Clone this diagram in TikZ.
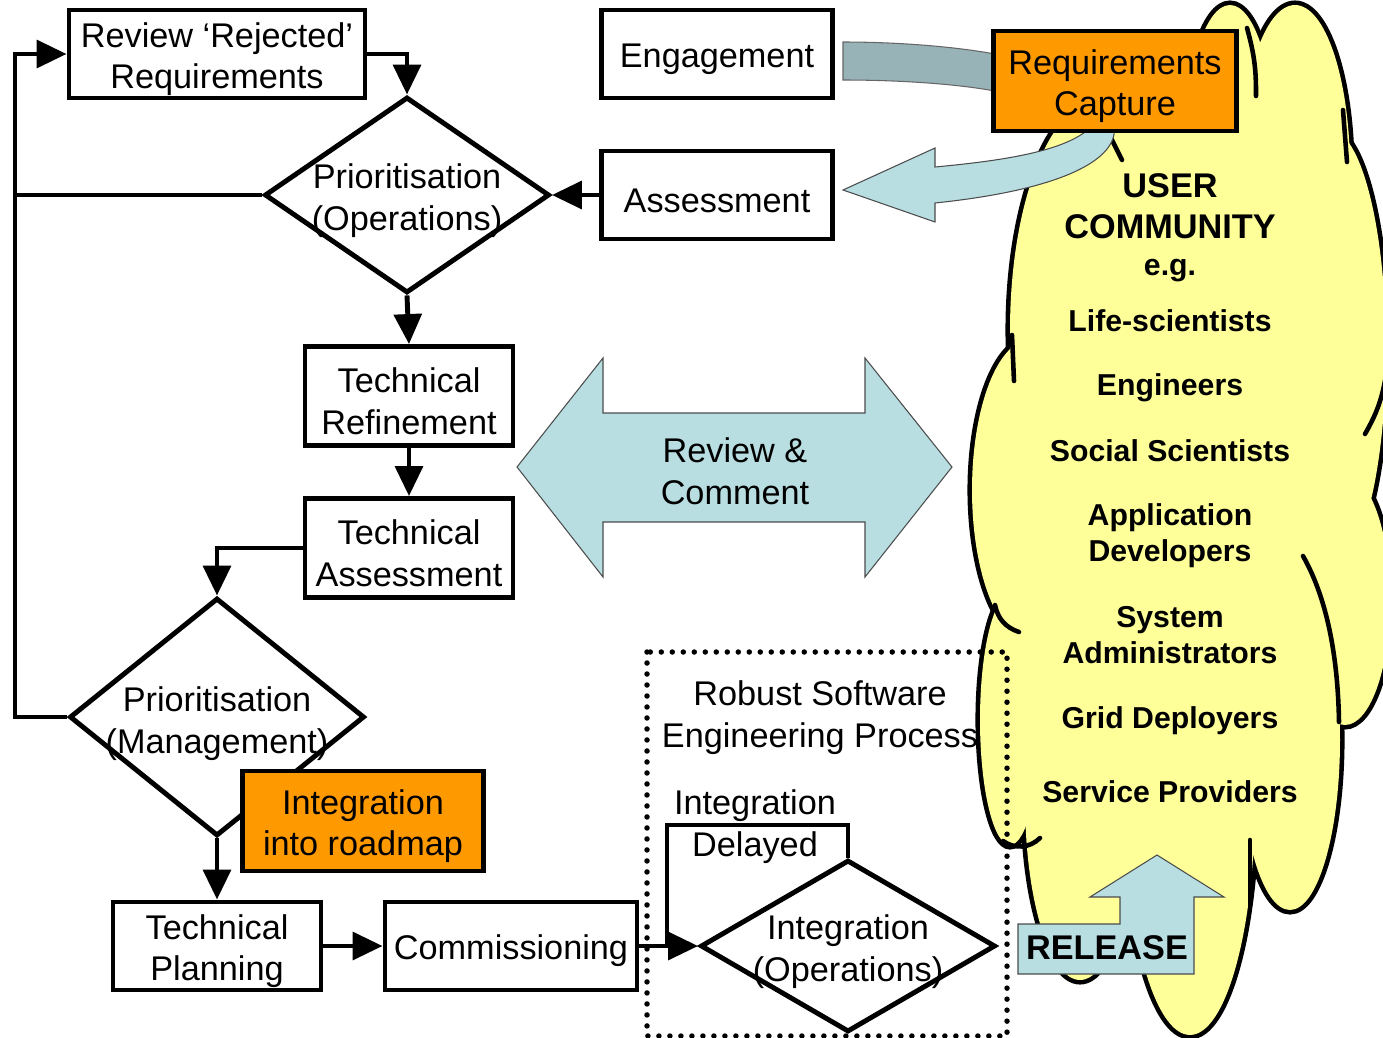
\documentclass[tikz,border=0pt]{standalone}
\usepackage{fontspec}
\setmainfont{Liberation Sans}
\usetikzlibrary{shapes.geometric,arrows.meta}

\definecolor{roadorange}{HTML}{FF9900}
\definecolor{paleblue}{HTML}{B8DEE2}
\definecolor{greyblue}{HTML}{97B3B7}
\definecolor{cloudyellow}{HTML}{FFFF99}

% top strut for box text
\newcommand{\upstrut}{\rule{0pt}{1.02em}}

% cloud lobes: x/y/x radius/y radius
\def\cloudlobes{1230/150/0.9/2.9, 1295/170/1.1/3.3, 1330/350/1.12/4.4, 1345/600/0.9/2.5,
  1290/740/1.0/3.4, 1190/800/1.3/4.7, 1080/800/1.1/3.6, 1010/720/0.6/2.5,
  1030/490/1.16/3.0, 1100/330/1.8/4.6}

\begin{document}
\begin{tikzpicture}[x=0.02cm, y=-0.02cm,
        every node/.style={font=\fontsize{19.5}{23.8}\selectfont},
        box/.style={rectangle, draw, line width=2.8pt, fill=white, align=center, inner sep=0pt},
        decision/.style={diamond, draw, line width=2.8pt, fill=white, inner sep=0pt},
        txt/.style={align=center},
        crowd/.style={align=center, font=\fontsize{17.2}{20.4}\selectfont\bfseries},
        arrow/.style={-{Triangle[length=0.6cm,width=0.55cm]}, line width=2.8pt},
        link/.style={line width=2.8pt},
        fatarrow/.style={fill=paleblue, draw=black!70, line width=0.6pt},
        dotbox/.style={line width=0.11cm, line cap=round, dash pattern=on 0pt off 0.22cm},
        hook/.style={line width=2.6pt, line cap=round}
    ]
        \useasboundingbox (0,0) rectangle (1383,1038);

        % User community cloud
        \foreach \cx/\cy/\rx/\ry in \cloudlobes
            \draw[line width=5.2pt] (\cx,\cy) ellipse [x radius=\rx cm, y radius=\ry cm];
        \foreach \cx/\cy/\rx/\ry in \cloudlobes
            \fill[cloudyellow] (\cx,\cy) ellipse [x radius=\rx cm, y radius=\ry cm];
        \fill[cloudyellow] (1180,500) ellipse [x radius=3cm, y radius=7.6cm];
        \fill[cloudyellow] (1090,640) ellipse [x radius=1.2cm, y radius=2.4cm];
        \draw[hook] (1247,28) to[bend left=8] (1256,96);
        \draw[hook] (1343,110) -- (1347,162);
        \draw[hook] (1386,375) to[bend left=10] (1365,434);
        \draw[hook] (1303,556) .. controls (1328,600) and (1338,660) .. (1339,722);
        \draw[hook] (1250,840) -- (1250,905);
        \draw[hook] (1012,335) -- (1014,381);
        \draw[hook] (995,605) to[bend right=30] (1019,632);
        \draw[hook] (1003,841) to[bend right=40] (1040,838);
        \draw[hook] (1111,138) -- (1122,160);

        \node[crowd, font=\fontsize{19.5}{23.2}\selectfont\bfseries] (uc) at (1170,206) {USER\\COMMUNITY};
        \node[crowd] (eg) at (1170,271) {e.g.};
        \node[crowd] (life) at (1170,321) {Life-scientists};
        \node[crowd] (eng-c) at (1170,388) {Engineers};
        \node[crowd] (soc) at (1170,451) {Social Scientists};
        \node[crowd] (app) at (1170,536) {Application\\Developers};
        \node[crowd] (sys) at (1170,635) {System\\Administrators};
        \node[crowd] (grid) at (1170,721) {Grid Deployers};
        \node[crowd] (serv) at (1170,792) {Service Providers};

        % Broad arrows
        \draw[fill=greyblue, draw=black!60, line width=0.6pt] (843,42) .. controls (900,42) and (960,47) .. (1000,55)
            -- (1000,92) .. controls (960,84) and (900,80) .. (843,80) -- cycle;
        \draw[fatarrow] (935,167) .. controls (1010,160) and (1070,150) .. (1093,125) -- (1114,125)
            .. controls (1120,160) and (1060,190) .. (935,203) -- (935,222) -- (843,190) -- (935,148) -- cycle;
        \draw[fatarrow] (517,467) -- (603,358) -- (603,413) -- (865,413) -- (865,358) -- (952,467)
            -- (865,577) -- (865,522) -- (603,522) -- (603,577) -- cycle;
        \node[txt] (rc) at (735,471) {Review \&\\Comment};
        \draw[fatarrow] (1018,974) -- (1018,924) -- (1120,924) -- (1120,897) -- (1090,897) -- (1157,855)
            -- (1224,897) -- (1194,897) -- (1194,974) -- cycle;
        \node[font=\fontsize{19.5}{23.8}\selectfont\bfseries] (rel) at (1107,948) {RELEASE};

        % Process box
        \draw[dotbox] (647,652) rectangle (1007,1036);
        \node[txt] (rsep) at (820,718) {Robust Software\\Engineering Process};

        % Boxes
        \node[box, minimum width=5.92cm, minimum height=1.76cm] (rev) at (217,54) {\upstrut Review `Rejected'\\Requirements};
        \node[box, minimum width=4.62cm, minimum height=1.76cm] (eng) at (717,54) {\upstrut Engagement};
        \node[box, minimum width=4.62cm, minimum height=1.76cm] (ass) at (717,195) {\upstrut Assessment};
        \node[box, fill=roadorange, minimum width=4.86cm, minimum height=2cm] (req) at (1115,81) {\upstrut Requirements\\Capture};
        \node[decision, minimum width=5.7cm, minimum height=3.92cm] (po) at (407,195) {};
        \node[txt] (po-txt) at (407,201) {Prioritisation\\(Operations)};
        \node[box, minimum width=4.16cm, minimum height=1.98cm] (tref) at (409,396) {\upstrut Technical\\Refinement};
        \node[box, minimum width=4.16cm, minimum height=1.98cm] (tass) at (409,548) {\upstrut Technical\\Assessment};
        \node[decision, minimum width=5.9cm, minimum height=4.76cm] (pm) at (217,717) {};
        \node[txt] (pm-txt) at (217,724) {Prioritisation\\(Management)};
        \node[box, fill=roadorange, minimum width=4.82cm, minimum height=2cm] (road) at (363,821) {\upstrut Integration\\into roadmap};
        \node[box, minimum width=4.16cm, minimum height=1.76cm] (tplan) at (217,946) {\upstrut Technical\\Planning};
        \node[box, minimum width=5.04cm, minimum height=1.76cm] (comm) at (511,946) {\upstrut Commissioning};
        \node[decision, minimum width=5.9cm, minimum height=3.44cm] (io) at (848,946) {};
        \node[txt] (io-txt) at (848,952) {Integration\\(Operations)};

        % Arrows
        \coordinate (loop) at (15,195);
        \coordinate (delay) at (667,825);
        \draw[arrow] (rev.east) -| (po.north);
        \draw[link] (po.west) -- (loop);
        \draw[arrow] (pm.west) -| (loop) |- (rev.west);
        \draw[arrow] (ass.west) -- (po.east);
        \draw[arrow] (po.south) -- (tref.north);
        \draw[arrow] (tref.south) -- (tass.north);
        \draw[arrow] (tass.west) -| (pm.north);
        \draw[arrow] (pm.south) -- (tplan.north);
        \draw[arrow] (tplan.east) -- (comm.west);
        \draw[link] (io.north) |- (delay) -- (delay |- io.west);
        \draw[arrow] (comm.east) -- (io.west);
        \node[txt] (delay-txt) at (755,827) {Integration\\Delayed};
    \end{tikzpicture}
\end{document}
